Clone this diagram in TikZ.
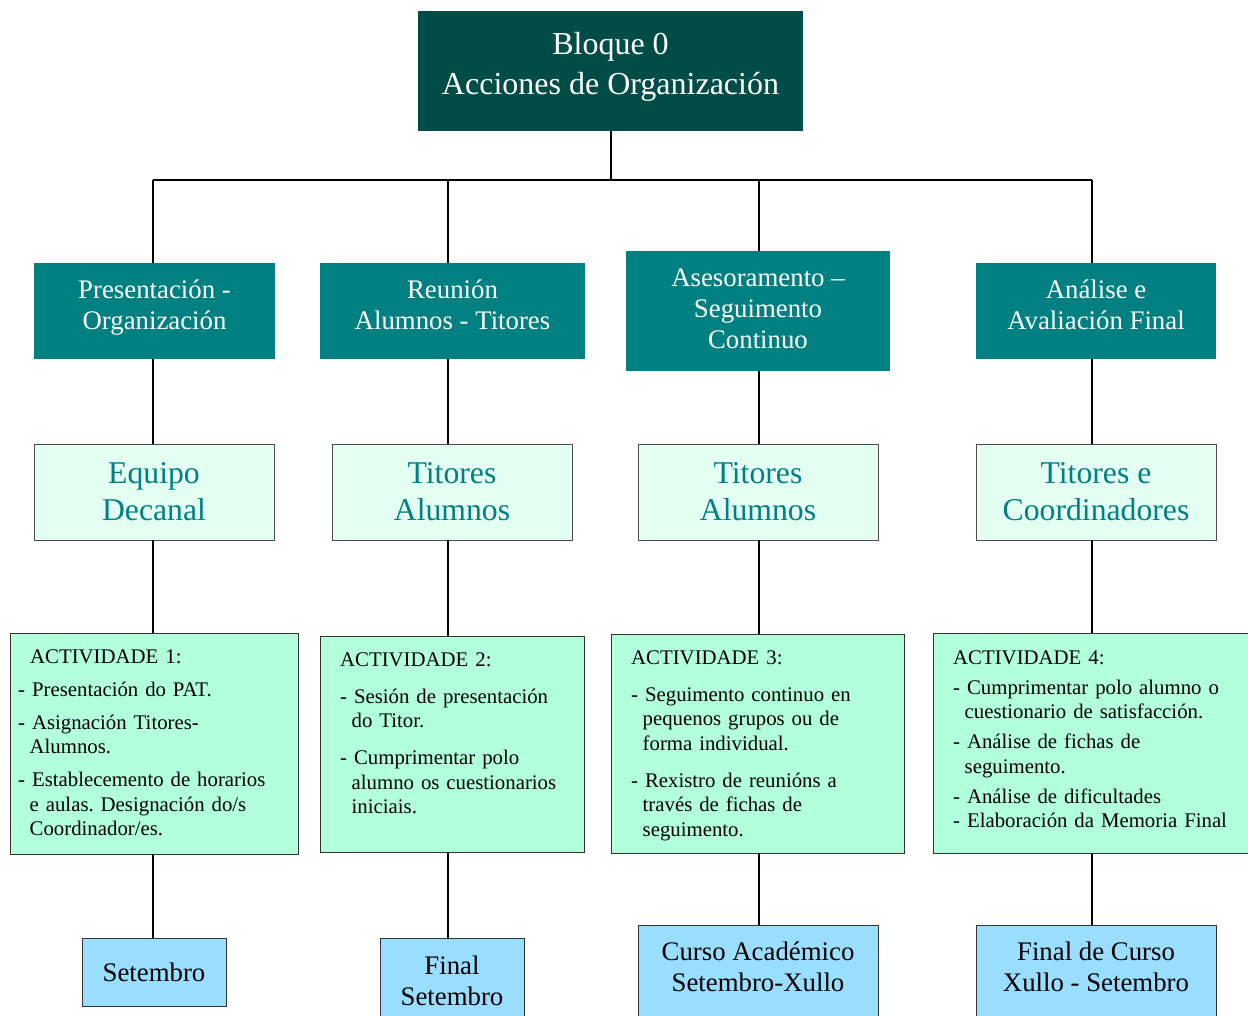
\documentclass[tikz,border=0pt]{standalone}
\usepackage{fontspec}
\setmainfont{Liberation Serif}
\usetikzlibrary{positioning}
\definecolor{bloque}{HTML}{004D47}
\definecolor{fase}{HTML}{008080}
\definecolor{quen}{HTML}{E3FFF2}
\definecolor{activ}{HTML}{B2FFDC}
\definecolor{data}{HTML}{99DDFF}
\newcommand{\actitem}[2][\actgap]{\par\vspace{#1}\hangindent=11.5pt\hangafter=1 #2}
\frenchspacing

\begin{document}
\begin{tikzpicture}[x=1pt,y=-1pt,
    bloque/.style={fill=bloque, text=white, align=center, minimum width=385, minimum height=120, text depth=15, font=\fontsize{32}{40}\selectfont},
    fase/.style={fill=fase, text=white, align=center, minimum height=96, text depth=13, font=\fontsize{26.8}{31}\selectfont},
    quen/.style={draw=black!70, line width=0.8pt, fill=quen, text=fase, align=center, minimum width=240, minimum height=96, font=\fontsize{31.7}{37}\selectfont},
    activ/.style={draw=black!80, line width=0.8pt, fill=activ},
    acttxt/.style={anchor=north west, inner sep=0, text width=300, execute at begin node={\parindent=0pt\raggedright}, font=\fontsize{20.8}{24.5}\selectfont},
    data/.style={draw=black!80, line width=0.8pt, fill=data, align=center, minimum width=144, font=\fontsize{26.8}{31}\selectfont},
    enlace/.style={line width=2pt}]
    \useasboundingbox (0,0) rectangle (1248,1016);

    % bloque
    \node[bloque] (b0) at (610.5,71) {Bloque 0\\Acciones de Organización};
    \coordinate (bar) at (610.5,180);

    % fases
    \node[fase, minimum width=241] (f1) at (154.5,311) {Presentación -\\Organización};
    \node[fase, minimum width=265] (f2) at (452.5,311) {Reunión\\Alumnos - Titores};
    \node[fase, minimum width=264, minimum height=120, text depth=5] (f3) at (758,311) {Asesoramento –\\Seguimento\\Continuo};
    \node[fase, minimum width=240] (f4) at (1096,311) {Análise e\\Avaliación Final};

    % quen
    \node[quen] (q1) at (154,492) {Equipo\\Decanal};
    \node[quen] (q2) at (452,492) {Titores\\Alumnos};
    \node[quen] (q3) at (758,492) {Titores\\Alumnos};
    \node[quen] (q4) at (1096,492) {Titores e\\Coordinadores};

    % actividades
    \node[activ, minimum width=288, minimum height=221] (a1) at (154,743.5) {};
    \node[activ, minimum width=264, minimum height=216] (a2) at (452,744) {};
    \node[activ, minimum width=293, minimum height=219] (a3) at (757.5,743.5) {};
    \node[activ, minimum width=320, minimum height=220] (a4) at (1093,743) {};

    \node[acttxt] (t1) at (18,649.5) {\def\actgap{8.5pt}\hspace*{12pt}ACTIVIDADE 1:
        \actitem{- Presentación do PAT.}
        \actitem{- Asignación Titores-\newline Alumnos.}
        \actitem{- Establecemento de horarios\newline e aulas. Designación do/s\newline Coordinador/es.}\par};
    \node[acttxt] (t2) at (340,652.5) {\def\actgap{12.5pt}ACTIVIDADE 2:
        \actitem{- Sesión de presentación\newline do Titor.}
        \actitem{- Cumprimentar polo\newline alumno os cuestionarios\newline iniciais.}\par};
    \node[acttxt] (t3) at (631,650.5) {\def\actgap{12.5pt}ACTIVIDADE 3:
        \actitem{- Seguimento continuo en\newline pequenos grupos ou de\newline forma individual.}
        \actitem{- Rexistro de reunións a\newline través de fichas de\newline seguimento.}\par};
    \node[acttxt] (t4) at (953,650.5) {\def\actgap{5.5pt}ACTIVIDADE 4:
        \actitem{- Cumprimentar polo alumno o\newline cuestionario de satisfacción.}
        \actitem{- Análise de fichas de\newline seguimento.}
        \actitem{- Análise de dificultades}
        \actitem[0pt]{- Elaboración da Memoria Final}\par};

    % datas
    \node[data, minimum height=68] (d1) at (154,972) {Setembro};
    \node[data, minimum height=90, text depth=4] (d2) at (452,983) {Final\\Setembro};
    \node[data, minimum width=240, minimum height=100, text depth=16] (d3) at (758,975) {Curso Académico\\Setembro-Xullo};
    \node[data, minimum width=240, minimum height=100, text depth=16] (d4) at (1096,975) {Final de Curso\\Xullo - Setembro};

    % enlaces
    \draw[enlace] (b0) -- (bar);
    \draw[enlace] (153,0 |- bar) -- (1092,0 |- bar);
    \foreach \n/\cx in {1/153,2/448,3/759,4/1092}{
        \draw[enlace] (\cx,0 |- bar) -- (\cx,0 |- f\n.north);
        \draw[enlace] (\cx,0 |- f\n.south) -- (\cx,0 |- q\n.north);
        \draw[enlace] (\cx,0 |- q\n.south) -- (\cx,0 |- a\n.north);
        \draw[enlace] (\cx,0 |- a\n.south) -- (\cx,0 |- d\n.north);
    }
\end{tikzpicture}
\end{document}
